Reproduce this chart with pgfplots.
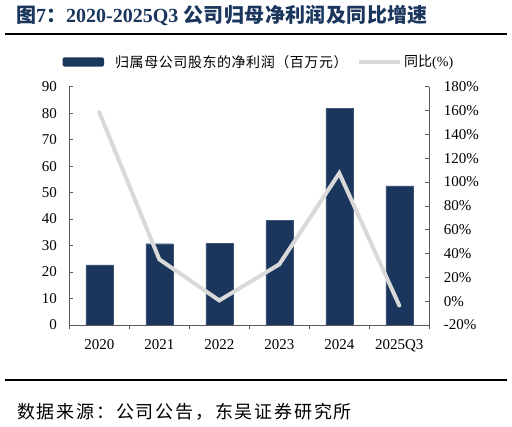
\documentclass[border=0pt]{standalone}
\usepackage{pgfplots}
\pgfplotsset{compat=1.18}
\usepackage{fontspec}
\setmainfont{Liberation Serif}
\newfontfamily\cjk{Noto Sans CJK SC}
\definecolor{navy}{HTML}{1B365D}
\definecolor{lgray}{HTML}{D9D9D9}
\definecolor{axgray}{HTML}{595959}

\pgfplotsset{
    common/.style={
        width=360pt, height=238.3pt, scale only axis,
        at={(69.3pt,102pt)}, anchor=south west,
        xmin=-0.5, xmax=5.5,
        tick align=inside, major tick length=4pt,
        tick style={draw=axgray, line width=0.6pt},
        axis line style={-, draw=axgray, line width=0.8pt},
        ticklabel style={font=\fontsize{15}{15}\selectfont},
        /pgf/number format/assume math mode=true,
    }
}

\begin{document}
\begin{tikzpicture}[x=1pt,y=1pt]
\useasboundingbox (0,0) rectangle (512,427);

% title and rules
\node[anchor=west, text=navy, font=\fontsize{20}{20}\selectfont\bfseries, inner sep=0]
    at (16,412) {{\cjk 图}7{\cjk ：}2020-2025Q3 {\cjk\addfontfeature{LetterSpace=2} 公司归母净利润及同比增速}};
\draw[line width=2pt] (5,392.7) -- (507,392.7);
\draw[line width=2pt] (5,47) -- (507,47);
\node[anchor=west, font=\cjk\fontsize{18}{18}\selectfont\addfontfeature{LetterSpace=10}, inner sep=0]
    at (17,15.3) {数据来源：公司公告，东吴证券研究所};

% legend
\fill[navy, rounded corners=1.5pt] (62.7,360.3) rectangle (104,369.7);
\node[anchor=west, font=\cjk\fontsize{14}{14}\selectfont\addfontfeature{LetterSpace=4}, inner sep=0]
    at (115,364.7) {归属母公司股东的净利润（百万元）};
\draw[lgray, line width=4pt] (359,364.7) -- (400,364.7);
\node[anchor=west, font=\fontsize{14}{14}\selectfont, inner sep=0]
    at (404,364.7) {{\cjk 同比}(\%)};

% bars: net profit
\begin{axis}[
    common,
    ymin=0, ymax=90, ytick={0,10,...,90},
    axis y line*=left, axis x line*=bottom,
    yticklabel style={xshift=-9pt},
    xticklabel style={yshift=-7pt},
    ybar, bar width=27pt,
    xtick={-0.5,0.5,...,5.5},
    xticklabels={2020,2021,2022,2023,2024,2025Q3},
    x tick label as interval,
]
\addplot[fill=navy, draw=navy!85!white] coordinates {
    (0,22.7) (1,30.7) (2,30.8) (3,39.6) (4,81.7) (5,52.5)
};
\end{axis}

% line: yoy growth
\begin{axis}[
    common,
    ymin=-20, ymax=180, ytick={-20,0,...,180},
    axis y line*=right, axis x line=none,
    yticklabel style={xshift=11pt},
    yticklabel={\pgfmathprintnumber{\tick}\%},
]
\addplot[lgray, line width=4pt, line cap=round] coordinates {
    (0,158.5) (1,35.1) (2,0.6) (3,30.9) (4,107.4) (5,-3.6)
};
\end{axis}
\end{tikzpicture}
\end{document}
